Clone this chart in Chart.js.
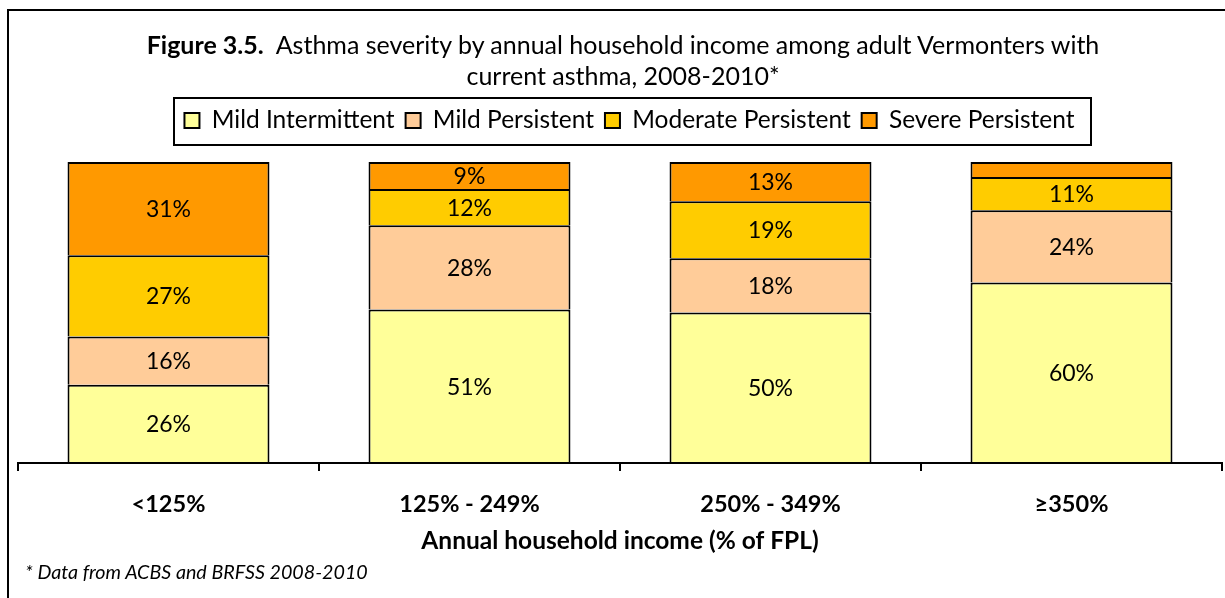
<!DOCTYPE html>
<html>
<head>
<meta charset="utf-8">
<script src="https://cdn.jsdelivr.net/npm/chart.js@4.4.1/dist/chart.umd.min.js"></script>
<style>
  html, body { margin: 0; padding: 0; background: #fff; overflow: hidden; width: 1225px; height: 598px; }
  #frame { position: absolute; left: 7px; top: 9px; width: 1260px; height: 620px; border: 2px solid #000; box-sizing: border-box; }
  #title { position: absolute; left: 8px; width: 1230px; top: 29px; text-align: center; font-family: Lato, sans-serif; font-size: 25px; line-height: 31px; color: #000; white-space: nowrap; }
  #title b { font-weight: bold; }
  #foot { position: absolute; left: 25px; top: 560.5px; font-family: Lato, sans-serif; font-style: italic; font-size: 19.7px; line-height: 22px; color: #000; white-space: nowrap; }
  #wrap { position: absolute; left: 0; top: 0; width: 1225px; height: 598px; }
</style>
</head>
<body>
<div id="frame"></div>
<div id="wrap"><canvas id="c" width="1225" height="598"></canvas></div>
<div id="title"><b>Figure 3.5.</b>&nbsp; Asthma severity by annual household income among adult Vermonters with<br>current asthma, 2008-2010*</div>
<div id="foot">* Data from ACBS and BRFSS 2008-2010</div>
<script>
const categories = ['<125%', '125% - 249%', '250% - 349%', '\u2265350%'];
const seriesNames = ['Mild Intermittent', 'Mild Persistent', 'Moderate Persistent', 'Severe Persistent'];
const mildIntermittent = [26, 51, 50, 60];
const mildPersistent = [16, 28, 18, 24];
const moderatePersistent = [27, 12, 19, 11];
const severePersistent = [31, 9, 13, 5];
const seriesColors = ['#FFFF99', '#FFCC99', '#FFCC00', '#FF9900'];
const xAxisTitle = 'Annual household income (% of FPL)';

const seriesValues = [mildIntermittent, mildPersistent, moderatePersistent, severePersistent];

Chart.defaults.font.family = 'Lato, sans-serif';
Chart.defaults.color = '#000';

const segmentLabels = {
  id: 'segmentLabels',
  afterDatasetsDraw(chart) {
    const ctx = chart.ctx;
    ctx.save();
    ctx.font = '23px Lato, sans-serif';
    ctx.fillStyle = '#000';
    ctx.textAlign = 'center';
    ctx.textBaseline = 'middle';
    chart.data.datasets.forEach((ds, di) => {
      const meta = chart.getDatasetMeta(di);
      meta.data.forEach((el, i) => {
        const p = el.getProps(['x', 'y', 'base'], true);
        const h = Math.abs(p.base - p.y);
        if (h < 22) return;
        ctx.fillText(ds.data[i] + '%', p.x, (p.y + p.base) / 2 + 1);
      });
    });
    ctx.restore();
  }
};

const legendShift = {
  id: 'legendShift',
  afterLayout(chart) {
    if (chart.legend) { chart.legend.left += 19; }
  }
};

const legendFrame = {
  id: 'legendFrame',
  afterDraw(chart) {
    const hb = chart.legend && chart.legend.legendHitBoxes;
    if (!hb || !hb.length) return;
    let l = Infinity, r = -Infinity, t = Infinity, b = -Infinity;
    hb.forEach(h => {
      l = Math.min(l, h.left); r = Math.max(r, h.left + h.width);
      t = Math.min(t, h.top); b = Math.max(b, h.top + h.height);
    });
    const ctx = chart.ctx;
    ctx.save();
    ctx.strokeStyle = '#000';
    ctx.lineWidth = 2;
    ctx.strokeRect(Math.round(l - 10), Math.round(t - 10), Math.round(r - l + 27), Math.round(b - t + 22));
    ctx.restore();
  }
};

new Chart(document.getElementById('c'), {
  type: 'bar',
  data: {
    labels: categories,
    datasets: seriesValues.map((vals, i) => ({
      label: seriesNames[i],
      data: vals,
      backgroundColor: seriesColors[i],
      borderColor: '#000',
      borderWidth: { top: 2, left: 2, right: 2, bottom: 0 },
      borderSkipped: false,
      categoryPercentage: 1.0,
      barPercentage: 0.671,
      xAxisID: 'x',
      yAxisID: 'y'
    }))
  },
  options: {
    responsive: false,
    devicePixelRatio: 1,
    animation: false,
    layout: { padding: { top: 97.25, left: 18, right: 3, bottom: 42.3 } },
    plugins: {
      title: { display: false },
      tooltip: { enabled: false },
      legend: {
        display: true,
        position: 'top',
        align: 'center',
        labels: {
          boxWidth: 15,
          boxHeight: 15,
          padding: 11,
          color: '#000',
          font: { size: 24.5 },
          generateLabels(chart) {
            const items = Chart.defaults.plugins.legend.labels.generateLabels(chart);
            items.forEach(it => { it.lineWidth = 2; it.strokeStyle = '#000'; });
            return items;
          }
        }
      }
    },
    scales: {
      x: {
        type: 'category',
        position: 'bottom',
        stacked: true,
        offset: true,
        grid: { display: true, drawOnChartArea: false, drawTicks: true, tickLength: 8, color: '#000', lineWidth: 2, offset: true },
        border: { display: true, color: '#000', width: 2, z: 1 },
        ticks: { padding: 19.4, maxRotation: 0, autoSkip: false, color: '#000', font: { size: 23.5, weight: 'bold' } },
        title: { display: true, text: xAxisTitle, color: '#000', font: { size: 24.5, weight: 'bold' }, padding: { top: -11.7, bottom: 0 } }
      },
      xTop: {
        type: 'category',
        axis: 'x',
        position: 'top',
        display: true,
        grid: { display: false, drawTicks: false },
        border: { display: false },
        ticks: { display: false },
        afterFit(scale) { scale.height = 19.25; }
      },
      y: {
        stacked: true,
        min: 0,
        max: 100,
        display: false
      }
    }
  },
  plugins: [segmentLabels, legendShift, legendFrame]
});
</script>
</body>
</html>
